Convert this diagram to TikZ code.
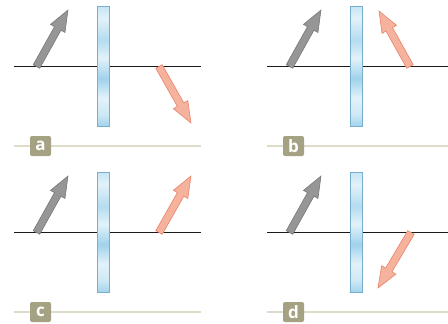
\documentclass[tikz,border=0pt]{standalone}
\usepackage{fontspec}
\setmainfont{Open Sans}
\usepackage{tikz}
\usetikzlibrary{positioning}
\usepackage{xcolor}
\definecolor{axisblack}{RGB}{26,26,26}
\definecolor{inputgray}{RGB}{150,150,150}
\definecolor{inputedge}{RGB}{120,120,120}
\definecolor{outputred}{RGB}{245,178,157}
\definecolor{outputedge}{RGB}{232,130,106}
\definecolor{plateedge}{RGB}{118,176,206}
\definecolor{platelight}{RGB}{226,242,250}
\definecolor{platedark}{RGB}{160,210,235}
\definecolor{capline}{RGB}{222,220,200}
\definecolor{capbox}{RGB}{165,162,131}

\pgfdeclareverticalshading{platebands}{100bp}{%
  color(0bp)=(platedark); color(25bp)=(platedark); color(30bp)=(platelight!70!platedark);
  color(37bp)=(platelight); color(45bp)=(platedark); color(53.5bp)=(platelight);
  color(61bp)=(platedark!70!platelight); color(70bp)=(platelight); color(75bp)=(platelight!60!platedark);
  color(100bp)=(platelight!60!platedark)}

% fat polarisation arrow: style, tail x, tail y, tip x, tip y (pixel units)
\newcommand{\polarrow}[5]{%
  \pgfmathsetmacro\arrang{atan2(-(#5-#3),#4-#2)}%
  \pgfmathsetmacro\arrlen{veclen(#4-#2,#5-#3)}%
  \pgfmathsetmacro\arrneck{\arrlen-21}%
  \begin{scope}[shift={(#2,#3)},rotate=\arrang]
    \draw[#1] (0,-3.7) -- (\arrneck,-3.7) -- (\arrneck,-8.3) -- (\arrlen,0)
      -- (\arrneck,8.3) -- (\arrneck,3.7) -- (0,3.7) -- cycle;
  \end{scope}}

\begin{document}
\begin{tikzpicture}[x=1pt,y=-1pt,
    axisline/.style={draw=axisblack,line width=1.3pt},
    inarrow/.style={fill=inputgray,draw=inputedge,line width=0.6pt,line join=miter},
    outarrow/.style={fill=outputred,draw=outputedge,line width=0.6pt,line join=miter},
    plate/.style={shading=platebands,draw=plateedge,line width=0.9pt},
    caprule/.style={draw=capline,line width=1.5pt},
    captag/.style={fill=capbox,rounded corners=2pt,minimum width=21pt,minimum height=20pt,
      inner sep=0pt,text=white,font=\fontsize{17}{17}\selectfont\bfseries}]
  \clip (0,0) rectangle (448,324);

  % Four panels: tag / panel offset / output arrow tail and tip
  \foreach \pnl/\px/\py/\rtx/\rty/\rhx/\rhy in {
    a/0/0/159/66.5/191/123,
    b/253/0/157/66.5/126/11,
    c/0/166/159/66.5/191/10,
    d/253/166/158/66.5/125/122}
  {
    \begin{scope}[shift={(\px,\py)}]
      % optical axis
      \draw[axisline] (14,66.5) -- (201,66.5);
      % plate
      \shade[plate] (97.5,6.5) rectangle (109,126.5);
      % incoming and outgoing polarisation
      \polarrow{inarrow}{36.5}{66.5}{68}{10}
      \polarrow{outarrow}{\rtx}{\rty}{\rhx}{\rhy}
      % caption strip
      \draw[caprule] (14,146) -- (201,146);
      \node[captag] (tag-\pnl) at (40.5,146) {\pnl};
    \end{scope}
  }
\end{tikzpicture}
\end{document}
